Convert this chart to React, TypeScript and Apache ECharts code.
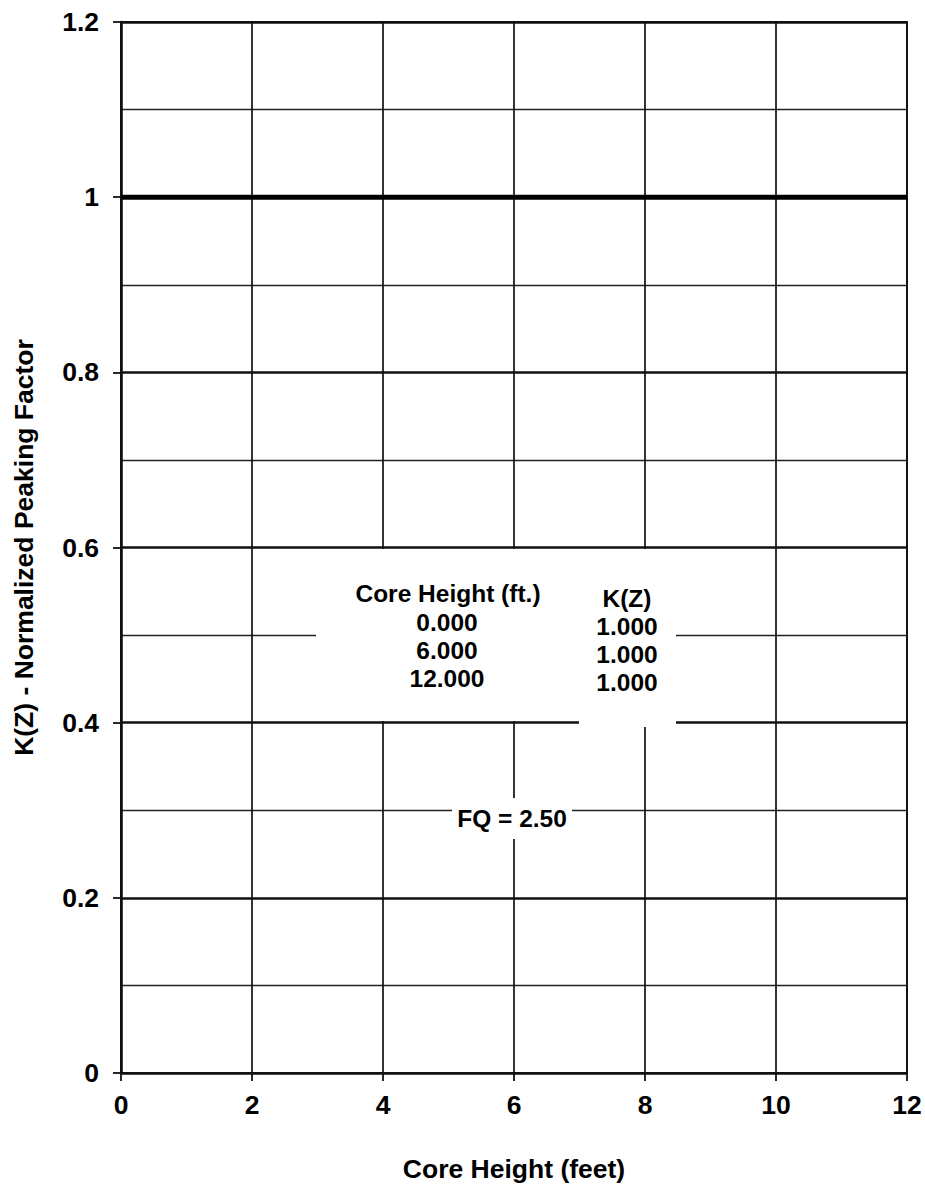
import React, { useEffect, useRef } from "react";
import * as echarts from "echarts";

// ---- data ----
const coreHeights = [0, 6, 12];
const kzValues = [1.0, 1.0, 1.0];
const fq = 2.5;
const xTicks = { min: 0, max: 12, interval: 2 };
const yTicks = { min: 0, max: 1.2, interval: 0.2 };

const FONT = '"Liberation Sans", Arial, Helvetica, sans-serif';

export default function App() {
  const ref = useRef<HTMLDivElement>(null);

  useEffect(() => {
    if (!ref.current) return;
    const chart = echarts.init(ref.current, undefined, { renderer: "svg" });

    const labelStyle = {
      fontFamily: FONT,
      fontWeight: "bold" as const,
      fontSize: 26.5,
      color: "#000",
    };

    const textFont = `bold 24.5px ${FONT}`;
    const txt = (s: string, x: number, y: number) => ({
      type: "text",
      x,
      y,
      z: 110,
      style: {
        text: s,
        font: textFont,
        fill: "#000",
        textAlign: "center",
        textVerticalAlign: "middle",
      },
    });
    const mask = (x: number, y: number, w: number, h: number) => ({
      type: "rect",
      z: 100,
      shape: { x, y, width: w, height: h },
      style: { fill: "#fff" },
    });

    chart.setOption({
      animation: false,
      backgroundColor: "#fff",
      grid: {
        left: 121,
        right: 18,
        top: 22,
        bottom: 117,
        show: true,
        borderColor: "#111",
        borderWidth: 1.8,
        containLabel: false,
      },
      xAxis: {
        type: "value",
        min: xTicks.min,
        max: xTicks.max,
        interval: xTicks.interval,
        name: "Core Height (feet)",
        nameLocation: "middle",
        nameGap: 82,
        nameTextStyle: labelStyle,
        axisLine: { show: true, onZero: false, lineStyle: { color: "#111", width: 2.2 } },
        axisTick: { show: true, inside: false, length: 8, lineStyle: { color: "#111", width: 1.8 } },
        axisLabel: { ...labelStyle, margin: 18 },
        splitLine: { show: true, lineStyle: { color: "#111", width: 1.7 } },
      },
      yAxis: {
        type: "value",
        min: yTicks.min,
        max: yTicks.max,
        interval: yTicks.interval,
        name: "K(Z) - Normalized Peaking Factor",
        nameLocation: "middle",
        nameGap: 84,
        nameTextStyle: labelStyle,
        axisLine: { show: true, onZero: false, lineStyle: { color: "#111", width: 2.6 } },
        axisTick: { show: true, inside: false, length: 8, lineStyle: { color: "#111", width: 1.8 } },
        axisLabel: { ...labelStyle, margin: 22 },
        splitLine: { show: true, lineStyle: { color: "#111", width: 2.5 } },
        minorTick: { show: false, splitNumber: 2 },
        minorSplitLine: { show: true, lineStyle: { color: "#222", width: 1.4 } },
      },
      series: [
        {
          type: "line",
          data: coreHeights.map((h, i) => [h, kzValues[i]]),
          symbol: "none",
          lineStyle: { color: "#000", width: 5 },
          z: 5,
        },
      ],
      graphic: [
        mask(316, 549, 263, 172),
        mask(579, 549, 97, 178),
        mask(452, 798, 120, 41),
        txt("Core Height (ft.)", 448, 593),
        ...coreHeights.map((h, i) => txt(h.toFixed(3), 447, 622 + i * 28)),
        txt("K(Z)", 627, 598),
        ...kzValues.map((k, i) => txt(k.toFixed(3), 627, 626 + i * 28)),
        txt(`FQ = ${fq.toFixed(2)}`, 512, 818),
      ],
    });

    return () => chart.dispose();
  }, []);

  return (
    <div
      ref={ref}
      style={{ position: "fixed", left: 0, top: 0, width: 925, height: 1190, background: "#fff" }}
    />
  );
}
